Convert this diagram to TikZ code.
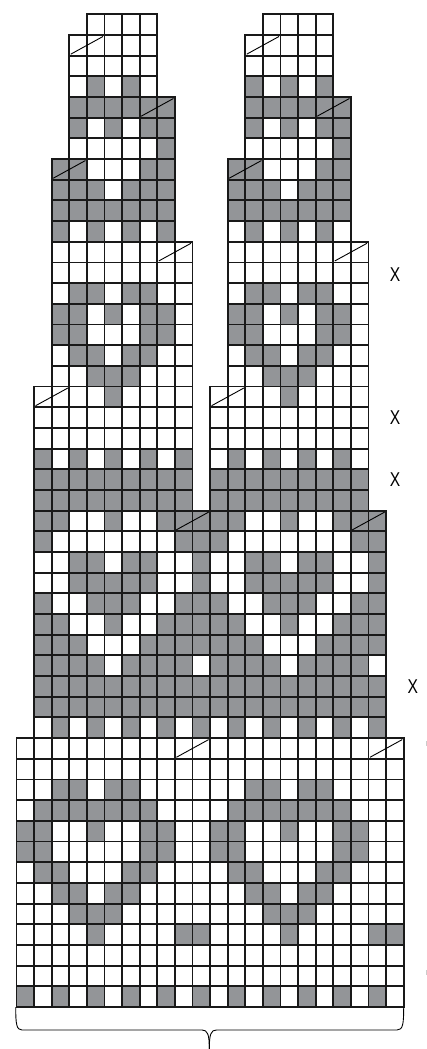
\documentclass[tikz,border=0pt]{standalone}
\usepackage{fontspec}
\setmainfont{Liberation Sans}
\definecolor{chartgray}{RGB}{147,149,152}
\begin{document}
\begin{tikzpicture}[x=1pt,y=-1pt,
  cellline/.style={draw=black!90,line width=1.9pt},
  cellfill/.style={fill=chartgray},
  diag/.style={draw=black,line width=0.9pt},
  rowmark/.style={font=\fontsize{20}{20}\selectfont,inner sep=0pt},
  bracepath/.style={draw=black,line width=0.9pt},
  faint/.style={draw=black!20,line width=0.8pt}]
\useasboundingbox (0,0) rectangle (427,1049);
\def\cw{17.6}\def\ch{20.68}\def\xo{16.5}\def\yo{14.3}
% gray cells
\foreach \r/\cs in {
 3/{4,6,13,15,17},
 4/{3,4,5,6,7,8,13,14,15,16,17,18},
 5/{3,5,7,8,13,15,17,18},
 6/{8,18},
 7/{2,3,7,8,12,13,17,18},
 8/{2,3,4,6,7,8,12,13,14,16,17,18},
 9/{2,3,4,5,6,7,8,12,13,14,15,16,17,18},
 10/{2,4,6,8,13,15,17},
 13/{3,4,6,7,13,14,16,17},
 14/{2,3,5,7,8,12,13,15,17,18},
 15/{2,3,7,8,12,13,17,18},
 16/{3,4,6,7,13,14,16,17},
 17/{4,5,6,14,15,16},
 18/{5,15},
 21/{1,3,5,7,9,12,14,16,18},
 22/{1,2,3,4,5,6,7,8,9,11,12,13,14,15,16,17,18,19},
 23/{1,2,3,4,5,6,7,8,9,11,12,13,14,15,16,17,18,19},
 24/{1,2,5,8,9,10,11,12,15,18,19,20},
 25/{1,9,10,11,19,20},
 26/{3,4,6,7,10,13,14,16,17,20},
 27/{3,4,5,6,7,10,13,14,15,16,17,20},
 28/{1,4,5,6,9,10,11,14,15,16,19,20},
 29/{1,2,5,8,9,10,11,12,15,18,19,20},
 30/{1,2,3,7,8,9,10,11,12,13,17,18,19,20},
 31/{1,2,3,4,6,7,8,9,11,12,13,14,16,17,18,19},
 32/{1,2,3,4,5,6,7,8,9,10,11,12,13,14,15,16,17,18,19,20},
 33/{1,2,3,4,5,6,7,8,9,10,11,12,13,14,15,16,17,18,19,20},
 34/{2,4,6,8,10,12,14,16,18,20},
 37/{2,3,5,6,13,14,16,17},
 38/{1,2,3,4,5,6,7,12,13,14,15,16,17,18},
 39/{0,1,4,7,8,11,12,15,18,19},
 40/{0,1,7,8,11,12,18,19},
 41/{1,2,6,7,12,13,17,18},
 42/{2,3,5,6,13,14,16,17},
 43/{3,4,5,14,15,16},
 44/{4,9,10,15,20,21},
 47/{0,2,4,6,8,10,12,14,16,18,20}}
 \foreach \c in \cs
  \path[cellfill] ({\xo+\cw*\c},{\yo+\ch*\r}) rectangle ++(\cw,\ch);
% grid
\foreach \ra/\rb/\a/\b in {
 0/0/4/7, 0/0/14/17,
 1/3/3/7, 1/3/13/17,
 4/6/3/8, 4/6/13/18,
 7/10/2/8, 7/10/12/18,
 11/17/2/9, 11/17/12/19,
 18/23/1/9, 18/23/11/19,
 24/34/1/20,
 35/47/0/21}
 \foreach \r in {\ra,...,\rb}
  \foreach \c in {\a,...,\b}
   \path[cellline] ({\xo+\cw*\c},{\yo+\ch*\r}) rectangle ++(\cw,\ch);
% diagonals
\foreach \r/\c in {1/3,1/13,4/7,4/17,7/2,7/12,11/8,11/18,18/1,18/11,24/9,24/19,35/9,35/20}
 \path[diag] ({\xo+\cw*\c+1.5},{\yo+\ch*(\r+1)-1.5}) -- ({\xo+\cw*(\c+2)-1.5},{\yo+\ch*\r+1.5});
% row marks
\node[rowmark] (m1) at (395,275) {\scalebox{0.78}[1]{X}};
\node[rowmark] (m2) at (395,418) {\scalebox{0.78}[1]{X}};
\node[rowmark] (m3) at (395,480) {\scalebox{0.78}[1]{X}};
\node[rowmark] (m4) at (412.7,687) {\scalebox{0.78}[1]{X}};
% faint marks
\path[faint] (426.5,741) -- (426.5,746);
\path[faint] (426.5,970) -- (426.5,975);
% brace
\path[bracepath] (15.7,1007) .. controls (15.7,1024) and (16.5,1030) .. (22,1030)
  -- (202,1030) .. controls (207.5,1030) and (209.3,1034) .. (209.3,1049);
\path[bracepath] (209.3,1049) .. controls (209.3,1034) and (211,1030) .. (216.5,1030)
  -- (397,1030) .. controls (402.9,1030) and (403.7,1024) .. (403.7,1007);
\end{tikzpicture}
\end{document}
